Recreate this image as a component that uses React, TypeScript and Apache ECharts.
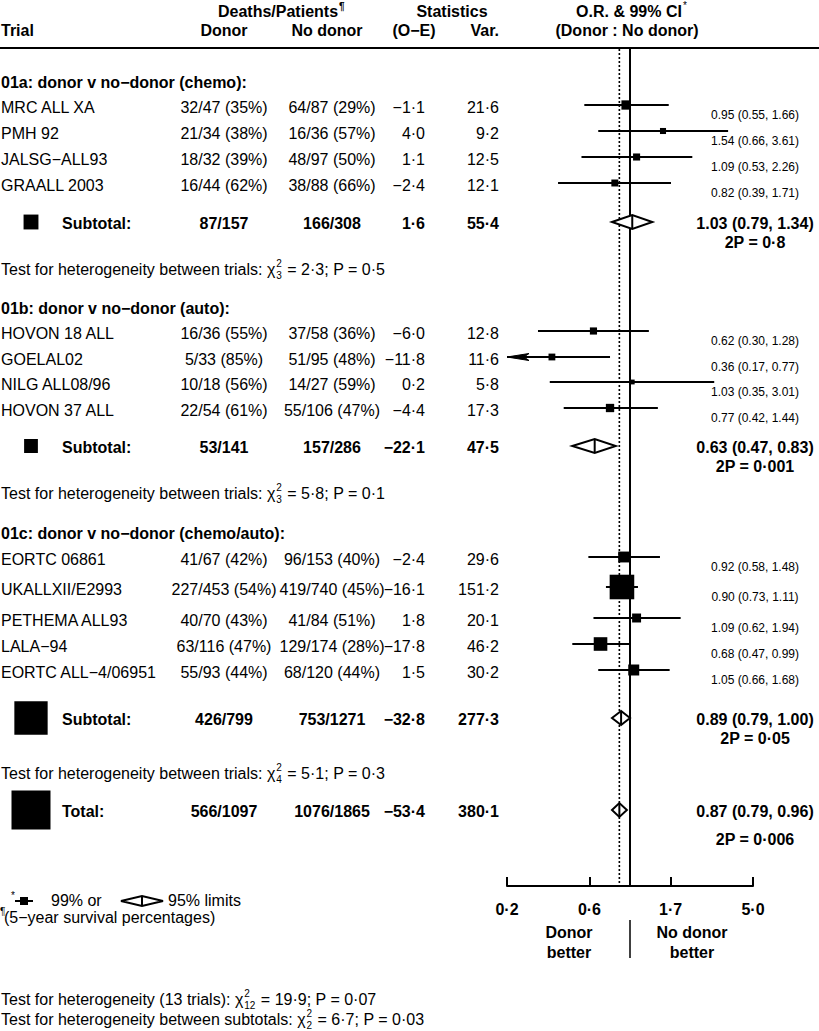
import React, { useEffect, useRef } from "react";
import * as echarts from "echarts";

// ---------------- data ----------------
const TRIALS = ["MRC ALL XA", "PMH 92", "JALSG−ALL93", "GRAALL 2003", "HOVON 18 ALL", "GOELAL02", "NILG ALL08/96", "HOVON 37 ALL", "EORTC 06861", "UKALLXII/E2993", "PETHEMA ALL93", "LALA−94", "EORTC ALL−4/06951"];
const DONOR = ["32/47 (35%)", "21/34 (38%)", "18/32 (39%)", "16/44 (62%)", "16/36 (55%)", "5/33 (85%)", "10/18 (56%)", "22/54 (61%)", "41/67 (42%)", "227/453 (54%)", "40/70 (43%)", "63/116 (47%)", "55/93 (44%)"];
const NO_DONOR = ["64/87 (29%)", "16/36 (57%)", "48/97 (50%)", "38/88 (66%)", "37/58 (36%)", "51/95 (48%)", "14/27 (59%)", "55/106 (47%)", "96/153 (40%)", "419/740 (45%)", "41/84 (51%)", "129/174 (28%)", "68/120 (44%)"];
const O_E = [-1.1, 4.0, 1.1, -2.4, -6.0, -11.8, 0.2, -4.4, -2.4, -16.1, 1.8, -17.8, 1.5];
const VAR = [21.6, 9.2, 12.5, 12.1, 12.8, 11.6, 5.8, 17.3, 29.6, 151.2, 20.1, 46.2, 30.2];
const OR = [0.95, 1.54, 1.09, 0.82, 0.62, 0.36, 1.03, 0.77, 0.92, 0.9, 1.09, 0.68, 1.05];
const LO = [0.55, 0.66, 0.53, 0.39, 0.3, 0.17, 0.35, 0.42, 0.58, 0.73, 0.62, 0.47, 0.66];
const HI = [1.66, 3.61, 2.26, 1.71, 1.28, 0.77, 3.01, 1.44, 1.48, 1.11, 1.94, 0.99, 1.68];

const GROUP_TITLES = ["01a: donor v no−donor (chemo):", "01b: donor v no−donor (auto):", "01c: donor v no−donor (chemo/auto):"];
const SUB_DONOR = ["87/157", "53/141", "426/799"];
const SUB_NO_DONOR = ["166/308", "157/286", "753/1271"];
const SUB_OE = [1.6, -22.1, -32.8];
const SUB_VAR = [55.4, 47.5, 277.3];
const SUB_OR = [1.03, 0.63, 0.89];
const SUB_LO = [0.79, 0.47, 0.79];
const SUB_HI = [1.34, 0.83, 1.0];
const SUB_P = ["0·8", "0·001", "0·05"];
const HET_DF = ["3", "3", "4"];
const HET_CHI = ["2·3", "5·8", "5·1"];
const HET_P = ["0·5", "0·1", "0·3"];

const TOTAL_DONOR = "566/1097";
const TOTAL_NO_DONOR = "1076/1865";
const TOTAL_OE = -53.4;
const TOTAL_VAR = 380.1;
const TOTAL_OR = 0.87;
const TOTAL_LO = 0.79;
const TOTAL_HI = 0.96;
const TOTAL_P = "0·006";

const FOOT_DF = ["12", "2"];
const FOOT_CHI = ["19·9", "6·7"];
const FOOT_P = ["0·07", "0·03"];

const TICK_VALUES = [0.2, 1 / 1.7, 1.7, 5];
const TICK_LABELS = ["0·2", "0·6", "1·7", "5·0"];
const AXIS_MIN = 0.2;
const AXIS_MAX = 5;
const REF_OR = 1;

// ---------------- layout ----------------
const W = 819;
const H = 1031;
const PLOT_LEFT = 507;
const PLOT_RIGHT = 753;
const AXIS_Y = 886;
const RULE_Y = 48;
const TRIAL_Y = [107, 133, 159, 185, 333, 359, 384, 410, 559, 589, 620, 646, 672];
const GROUP_Y = [82, 308, 533];
const SUB_Y = [223, 447, 719];
const HET_Y = [269, 493, 773];
const TOTAL_Y = 811;
const FOOT_Y = [999, 1019];
const X_NAME = 1;
const X_DONOR = 224;
const X_NODONOR = 332;
const X_OE = 425;
const X_VAR = 499;
const X_CI = 755;
const X_SUBLABEL = 62;
const X_SQUARE = 31;
const FONT = "'Liberation Sans', Arial, Helvetica, sans-serif";

const dot = (s: string) => s.replace(".", "·");
const fmt1 = (v: number) => (v < 0 ? "−" : "") + dot(Math.abs(v).toFixed(1));
const ciText = (o: number, l: number, h: number) => `${o.toFixed(2)} (${l.toFixed(2)}, ${h.toFixed(2)})`;

let measureCtx: CanvasRenderingContext2D | null = null;
function tw(s: string, size: number, bold = false) {
  if (!measureCtx) measureCtx = document.createElement("canvas").getContext("2d");
  if (!measureCtx) return s.length * size * 0.55;
  measureCtx.font = `${bold ? "bold " : ""}${size}px ${FONT}`;
  return measureCtx.measureText(s).width;
}

function buildOption() {
  const g: any[] = [];
  const T = (text: string, x: number, y: number, o: { size?: number; bold?: boolean; align?: string } = {}) => {
    const align = o.align ?? "left";
    g.push({
      type: "text",
      x,
      y,
      silent: true,
      style: {
        text,
        fill: "#000",
        fontFamily: FONT,
        fontSize: o.size ?? 16,
        fontWeight: o.bold ? "bold" : "normal",
        textAlign: align,
        textVerticalAlign: "middle",
        align,
        verticalAlign: "middle",
      },
    });
  };
  const chi = (x: number, y: number, prefix: string, df: string, rest: string) => {
    const head = prefix + "χ";
    T(head, x, y);
    const sx = x + tw(head, 16) + 1;
    T("2", sx, y - 6, { size: 10 });
    T(df, sx, y + 6, { size: 10 });
    const w = Math.max(tw("2", 10), tw(df, 10));
    T(rest, sx + w + 1, y);
  };

  // header
  const hd = "Deaths/Patients";
  T(hd, 278, 11, { bold: true, align: "center" });
  T("¶", 278 + tw(hd, 16, true) / 2 + 1, 6, { size: 10, bold: true });
  T("Statistics", 452, 11, { bold: true, align: "center" });
  const orh = "O.R. & 99% CI";
  T(orh, 629, 11, { bold: true, align: "center" });
  T("*", 629 + tw(orh, 16, true) / 2 + 1, 5, { size: 10 });
  T("Trial", X_NAME, 30, { bold: true });
  T("Donor", X_DONOR, 30, { bold: true, align: "center" });
  T("No donor", 327, 30, { bold: true, align: "center" });
  T("(O−E)", 414, 30, { bold: true, align: "center" });
  T("Var.", X_VAR, 30, { bold: true, align: "right" });
  T("(Donor : No donor)", 627, 30, { bold: true, align: "center" });
  g.push({ type: "line", silent: true, shape: { x1: 0, y1: RULE_Y, x2: W, y2: RULE_Y }, style: { stroke: "#000", lineWidth: 2 } });

  GROUP_TITLES.forEach((t, k) => T(t, X_NAME, GROUP_Y[k], { bold: true }));

  TRIALS.forEach((name, i) => {
    const y = TRIAL_Y[i];
    T(name, X_NAME, y);
    T(DONOR[i], X_DONOR, y, { align: "center" });
    T(NO_DONOR[i], X_NODONOR, y, { align: "center" });
    T(fmt1(O_E[i]), X_OE, y, { align: "right" });
    T(fmt1(VAR[i]), X_VAR, y, { align: "right" });
    T(ciText(OR[i], LO[i], HI[i]), X_CI, y + 8, { size: 12, align: "center" });
  });

  SUB_Y.forEach((y, k) => {
    T("Subtotal:", X_SUBLABEL, y, { bold: true });
    T(SUB_DONOR[k], X_DONOR, y, { bold: true, align: "center" });
    T(SUB_NO_DONOR[k], X_NODONOR, y, { bold: true, align: "center" });
    T(fmt1(SUB_OE[k]), X_OE, y, { bold: true, align: "right" });
    T(fmt1(SUB_VAR[k]), X_VAR, y, { bold: true, align: "right" });
    T(ciText(SUB_OR[k], SUB_LO[k], SUB_HI[k]), X_CI, y, { bold: true, align: "center" });
    T("2P = " + SUB_P[k], X_CI, y + 19, { bold: true, align: "center" });
    chi(X_NAME, HET_Y[k], "Test for heterogeneity between trials: ", HET_DF[k], ` = ${HET_CHI[k]}; P = ${HET_P[k]}`);
  });

  T("Total:", X_SUBLABEL, TOTAL_Y, { bold: true });
  T(TOTAL_DONOR, X_DONOR, TOTAL_Y, { bold: true, align: "center" });
  T(TOTAL_NO_DONOR, X_NODONOR, TOTAL_Y, { bold: true, align: "center" });
  T(fmt1(TOTAL_OE), X_OE, TOTAL_Y, { bold: true, align: "right" });
  T(fmt1(TOTAL_VAR), X_VAR, TOTAL_Y, { bold: true, align: "right" });
  T(ciText(TOTAL_OR, TOTAL_LO, TOTAL_HI), X_CI, TOTAL_Y, { bold: true, align: "center" });
  T("2P = " + TOTAL_P, X_CI, TOTAL_Y + 28, { bold: true, align: "center" });

  // axis annotation
  T("Donor", 569, 932, { bold: true, align: "center" });
  T("better", 569, 952, { bold: true, align: "center" });
  T("No donor", 692, 932, { bold: true, align: "center" });
  T("better", 692, 952, { bold: true, align: "center" });

  // legend
  T("*", 11, 895, { size: 10 });
  g.push({ type: "line", silent: true, shape: { x1: 15, y1: 901, x2: 33, y2: 901 }, style: { stroke: "#000", lineWidth: 2 } });
  g.push({ type: "rect", silent: true, shape: { x: 20, y: 897, width: 8, height: 8 }, style: { fill: "#000" } });
  T("99% or", 51, 900, { size: 16 });
  g.push({ type: "polygon", silent: true, shape: { points: [[121, 901], [142, 896], [163, 901], [142, 906]] }, style: { fill: "#fff", stroke: "#000", lineWidth: 2 } });
  g.push({ type: "line", silent: true, shape: { x1: 142, y1: 896, x2: 142, y2: 906 }, style: { stroke: "#000", lineWidth: 2 } });
  T("95% limits", 168, 900, { size: 16 });
  T("¶", 0, 911, { size: 10 });
  T("(5−year survival percentages)", 4, 917);

  // footer
  chi(X_NAME, FOOT_Y[0], "Test for heterogeneity (13 trials): ", FOOT_DF[0], ` = ${FOOT_CHI[0]}; P = ${FOOT_P[0]}`);
  chi(X_NAME, FOOT_Y[1], "Test for heterogeneity between subtotals: ", FOOT_DF[1], ` = ${FOOT_CHI[1]}; P = ${FOOT_P[1]}`);

  const minV = Math.log(AXIS_MIN);
  const maxV = Math.log(AXIS_MAX);

  const trialData = TRIALS.map((_, i) => [Math.log(OR[i]), TRIAL_Y[i] - 2, Math.log(LO[i]), Math.log(HI[i]), VAR[i]]);
  const pooledData = [
    ...SUB_Y.map((y, k) => [Math.log(SUB_OR[k]), y - 1, Math.log(SUB_LO[k]), Math.log(SUB_HI[k]), SUB_VAR[k]]),
    [Math.log(TOTAL_OR), TOTAL_Y - 1, Math.log(TOTAL_LO), Math.log(TOTAL_HI), TOTAL_VAR],
  ];

  const tickFormatter = (v: number) => {
    let best = 0;
    TICK_VALUES.forEach((t, i) => {
      if (Math.abs(Math.log(t) - v) < Math.abs(Math.log(TICK_VALUES[best]) - v)) best = i;
    });
    return TICK_LABELS[best];
  };
  const tickLn = TICK_VALUES.map((t) => Math.log(t));

  return {
    animation: false,
    backgroundColor: "#fff",
    grid: { left: PLOT_LEFT, width: PLOT_RIGHT - PLOT_LEFT, top: 0, height: AXIS_Y, containLabel: false },
    xAxis: {
      type: "value",
      min: minV,
      max: maxV,
      position: "bottom",
      axisLine: { show: true, onZero: false, lineStyle: { color: "#000", width: 2 } },
      axisTick: { show: true, inside: true, length: 9, lineStyle: { color: "#000", width: 2 }, customValues: tickLn },
      axisLabel: {
        show: true,
        customValues: tickLn,
        formatter: tickFormatter,
        color: "#000",
        fontSize: 16,
        fontWeight: "bold",
        fontFamily: FONT,
        margin: 15,
      },
      splitLine: { show: false },
    },
    yAxis: { type: "value", min: 0, max: AXIS_Y, inverse: true, show: false },
    graphic: { elements: g },
    series: [
      {
        type: "custom",
        name: "reference",
        clip: false,
        silent: true,
        data: [[Math.log(REF_OR), 0], [Math.log(TOTAL_OR), 1]],
        renderItem: (params: any, api: any) => {
          const x = api.coord([api.value(0), RULE_Y])[0];
          const top = api.coord([api.value(0), RULE_Y])[1];
          const bot = api.coord([api.value(0), AXIS_Y])[1];
          if (api.value(1) === 0) {
            return {
              type: "group",
              children: [
                { type: "line", shape: { x1: x, y1: top, x2: x, y2: bot }, style: { stroke: "#000", lineWidth: 2 } },
                { type: "line", shape: { x1: x, y1: bot + 34, x2: x, y2: bot + 72 }, style: { stroke: "#000", lineWidth: 1.5 } },
              ],
            };
          }
          return { type: "line", shape: { x1: x, y1: top + 1, x2: x, y2: bot }, style: { stroke: "#000", lineWidth: 1.6, lineDash: [2, 2] } };
        },
      },
      {
        type: "custom",
        name: "trials",
        clip: false,
        silent: true,
        data: trialData,
        renderItem: (params: any, api: any) => {
          const yv = api.value(1);
          const [cx, cy] = api.coord([api.value(0), yv]);
          const lo = api.value(2);
          const hi = api.value(3);
          const xl = api.coord([Math.max(lo, minV), yv])[0];
          const xh = api.coord([Math.min(hi, maxV), yv])[0];
          const s = 2 * Math.sqrt(api.value(4));
          const children: any[] = [
            { type: "line", shape: { x1: xl, y1: cy, x2: xh, y2: cy }, style: { stroke: "#000", lineWidth: 2 } },
            { type: "rect", shape: { x: cx - s / 2, y: cy - s / 2, width: s, height: s }, style: { fill: "#000" } },
          ];
          if (lo < minV) {
            children.push({
              type: "polygon",
              shape: { points: [[xl, cy], [xl + 22, cy - 3.5], [xl + 17, cy], [xl + 22, cy + 3.5]] },
              style: { fill: "#000", stroke: "#000", lineWidth: 1 },
            });
          }
          return { type: "group", children };
        },
      },
      {
        type: "custom",
        name: "pooled",
        clip: false,
        silent: true,
        data: pooledData,
        renderItem: (params: any, api: any) => {
          const yv = api.value(1);
          const [cx, cy] = api.coord([api.value(0), yv]);
          const xl = api.coord([api.value(2), yv])[0];
          const xh = api.coord([api.value(3), yv])[0];
          const hh = 7;
          const s = 2 * Math.sqrt(api.value(4));
          return {
            type: "group",
            children: [
              {
                type: "polygon",
                shape: { points: [[xl, cy], [cx, cy - hh], [xh, cy], [cx, cy + hh]] },
                style: { fill: "#fff", stroke: "#000", lineWidth: 2 },
              },
              { type: "line", shape: { x1: cx, y1: cy - hh, x2: cx, y2: cy + hh }, style: { stroke: "#000", lineWidth: 2 } },
              { type: "rect", shape: { x: X_SQUARE - s / 2, y: cy - s / 2, width: s, height: s }, style: { fill: "#000" } },
            ],
          };
        },
      },
    ],
  };
}

export default function App() {
  const ref = useRef<HTMLDivElement>(null);
  useEffect(() => {
    if (!ref.current) return;
    const chart = echarts.init(ref.current, null, { renderer: "svg", width: W, height: H });
    chart.setOption(buildOption() as any);
    return () => chart.dispose();
  }, []);
  return <div ref={ref} style={{ position: "absolute", left: 0, top: 0, width: W, height: H, background: "#fff" }} />;
}
